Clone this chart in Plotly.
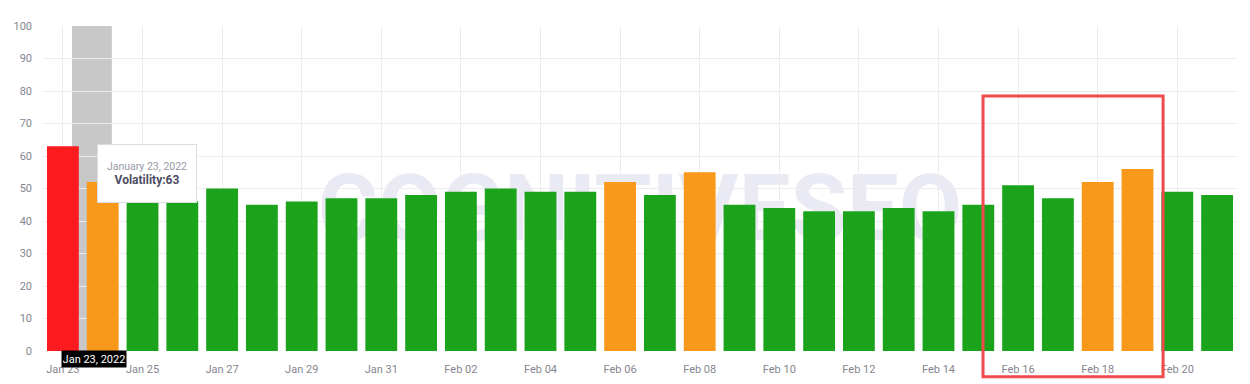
import plotly.graph_objects as go

dates = ["Jan 23", "Jan 24", "Jan 25", "Jan 26", "Jan 27", "Jan 28", "Jan 29", "Jan 30",
         "Jan 31", "Feb 01", "Feb 02", "Feb 03", "Feb 04", "Feb 05", "Feb 06", "Feb 07",
         "Feb 08", "Feb 09", "Feb 10", "Feb 11", "Feb 12", "Feb 13", "Feb 14", "Feb 15",
         "Feb 16", "Feb 17", "Feb 18", "Feb 19", "Feb 20", "Feb 21"]
volatility = [63, 52, 47, 46, 50, 45, 46, 47, 47, 48, 49, 50, 49, 49, 52, 48,
              55, 45, 44, 43, 43, 44, 43, 45, 51, 47, 52, 56, 49, 48]
tick_labels = dates[::2]
y_ticks = list(range(0, 101, 10))

RED, ORANGE, GREEN = "#fe1b1f", "#f9991b", "#1ba41b"


def level_color(v):
    if v >= 60:
        return RED
    if v >= 52:
        return ORANGE
    return GREEN


colors = [level_color(v) for v in volatility]

fig = go.Figure()
fig.add_trace(go.Bar(x=dates, y=volatility, marker=dict(color=colors, line=dict(width=0)),
                     hoverinfo="skip"))

font = "Roboto, Inter, sans-serif"
tick_color = "#85858f"
grid = "#ebebf0"

fig.update_layout(
    width=1242, height=376,
    margin=dict(l=35, r=13, t=18, b=33),
    paper_bgcolor="white", plot_bgcolor="white",
    bargap=0.2, showlegend=False,
    font=dict(family=font, size=11, color=tick_color),
    xaxis=dict(type="category", tickmode="array", tickvals=tick_labels, ticktext=tick_labels,
               showgrid=True, gridcolor=grid, gridwidth=1, ticks="", showline=False,
               zeroline=False, tickfont=dict(size=11, color=tick_color),
               ticklabelstandoff=10, range=[-0.5, len(dates) - 0.5], automargin=False),
    yaxis=dict(range=[0, 100], tickmode="array", tickvals=y_ticks, showgrid=True,
               gridcolor=grid, gridwidth=1, zeroline=False, ticks="", showline=False,
               tickfont=dict(size=11, color=tick_color), ticklabelstandoff=10,
               automargin=False),
)

# hover highlight band
fig.add_shape(type="rect", xref="x", yref="paper", x0=0.23, x1=1.23, y0=0, y1=1,
              fillcolor="#c8c8c8", line=dict(width=0), layer="below")
# watermark
fig.add_shape(type="rect", xref="paper", yref="paper", x0=0.2, x1=0.8, y0=0.3, y1=0.62,
              line=dict(width=0), fillcolor="rgba(0,0,0,0)", layer="below",
              label=dict(text="COGNITIVESEO", textposition="middle center",
                         font=dict(size=92, color="#e9eaf4", family=font, weight="bold")))
# red highlight rectangle
fig.add_shape(type="rect", xref="paper", yref="paper", x0=0.7873, x1=0.9381,
              y0=-0.079, y1=0.785, line=dict(color="#ef4a4c", width=3),
              fillcolor="rgba(0,0,0,0)", layer="above")

# tooltip
fig.add_annotation(xref="paper", yref="paper", x=0.0871, y=0.546, showarrow=False,
                   xanchor="center", yanchor="middle", width=96, height=55,
                   bgcolor="white", bordercolor="#dcdce2", borderwidth=1, borderpad=1,
                   align="center",
                   text="<span style='font-size:10.5px;color:#9a9aa8'>January 23, 2022</span><br>"
                        "<span style='font-size:12px;color:#4d4d63'><b>Volatility:63</b></span>")
# crosshair label
fig.add_annotation(xref="paper", yref="paper", x=0.0431, y=-0.0246, showarrow=False,
                   xanchor="center", yanchor="middle", width=62, height=14,
                   bgcolor="black", borderpad=1, text="Jan 23, 2022",
                   font=dict(size=11, color="white", family=font))

fig.write_html("out.html")
